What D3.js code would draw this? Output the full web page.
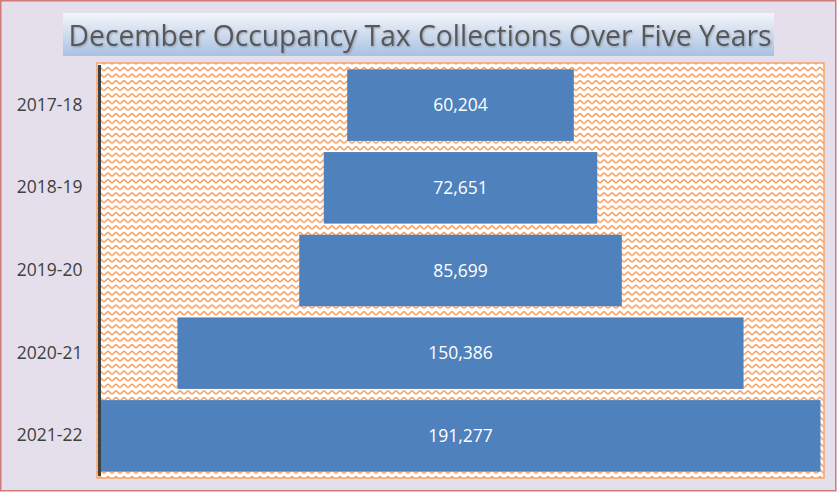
<!DOCTYPE html>
<html><head><meta charset="utf-8">
<script src="https://cdn.jsdelivr.net/npm/d3@7/dist/d3.min.js"></script>
<style>body{margin:0;background:#fff}svg{display:block}</style>
</head><body><svg id="c" width="837" height="493"></svg>
<script>
const title = "December Occupancy Tax Collections Over Five Years";
const categories = ["2017-18","2018-19","2019-20","2020-21","2021-22"];
const values = [60204,72651,85699,150386,191277];

const svg = d3.select("#c");
const defs = svg.append("defs");
const g1 = defs.append("linearGradient").attr("id","tg").attr("x1",0).attr("y1",0).attr("x2",0).attr("y2",1);
g1.append("stop").attr("offset","0%").attr("stop-color","#f3f6fb");
g1.append("stop").attr("offset","100%").attr("stop-color","#a9c1e1");
const pat = defs.append("pattern").attr("id","wave").attr("patternUnits","userSpaceOnUse")
  .attr("width",8).attr("height",6.6);
pat.append("rect").attr("width",8).attr("height",6.6).attr("fill","#fff");
pat.append("path").attr("d","M0,4.5 C1.3,4.5 2.7,1.5 4,1.5 C5.3,1.5 6.7,4.5 8,4.5")
  .attr("fill","none").attr("stroke","#f79a55").attr("stroke-width",1.5);
const sh = defs.append("filter").attr("id","sh").attr("x","-5%").attr("y","-20%").attr("width","110%").attr("height","140%");
sh.append("feDropShadow").attr("dx",1).attr("dy",1).attr("stdDeviation",0.8).attr("flood-color","#000").attr("flood-opacity",0.25);

// background
svg.append("rect").attr("x",0.75).attr("y",0.75).attr("width",835).attr("height",490)
  .attr("fill","#e5dfec").attr("stroke","#cf7b78").attr("stroke-width",1.5);

// title box
svg.append("rect").attr("x",63).attr("y",13).attr("width",711).attr("height",43).attr("fill","url(#tg)");
svg.append("text").attr("x",420).attr("y",46).attr("text-anchor","middle")
  .attr("font-family","Open Sans, sans-serif").attr("font-size",30).attr("fill","#595959")
  .attr("filter","url(#sh)")
  .attr("textLength",703).attr("lengthAdjust","spacingAndGlyphs").text(title);

// plot area
const plot = {x:97, y:63, w:727, h:415};
svg.append("rect").attr("x",plot.x).attr("y",plot.y).attr("width",plot.w).attr("height",plot.h)
  .attr("fill","url(#wave)").attr("stroke","#f9a66a").attr("stroke-width",1.5);

const y = d3.scaleBand().domain(categories).range([plot.y, plot.y+plot.h]).paddingInner(0.135).paddingOuter(0.077);
const cx = 460.5;
const x = d3.scaleLinear().domain([0, d3.max(values)]).range([0, 720]);

svg.selectAll("rect.bar").data(categories).join("rect").attr("class","bar")
  .attr("x",(d,i)=>cx - x(values[i])/2).attr("y",d=>y(d))
  .attr("width",(d,i)=>x(values[i])).attr("height",y.bandwidth())
  .attr("fill","#4f81bd");

const fmt = d3.format(",");
svg.selectAll("text.val").data(categories).join("text").attr("class","val")
  .attr("x",cx).attr("y",d=>y(d)+y.bandwidth()/2).attr("dy","0.35em").attr("text-anchor","middle")
  .attr("font-family","Open Sans, sans-serif").attr("font-size",17.5).attr("fill","#ffffff")
  .text((d,i)=>fmt(values[i]));

// axis
const axis = d3.axisLeft(y).tickSize(0).tickPadding(17);
const ag = svg.append("g").attr("transform",`translate(${plot.x+2.5},0)`).call(axis);
ag.select(".domain").attr("stroke","#404040").attr("stroke-width",3).attr("d",`M0,${plot.y+2}V${plot.y+plot.h-2}`);
ag.selectAll("text").attr("font-family","Open Sans, sans-serif").attr("font-size",17.5).attr("fill","#404040");
</script></body></html>
